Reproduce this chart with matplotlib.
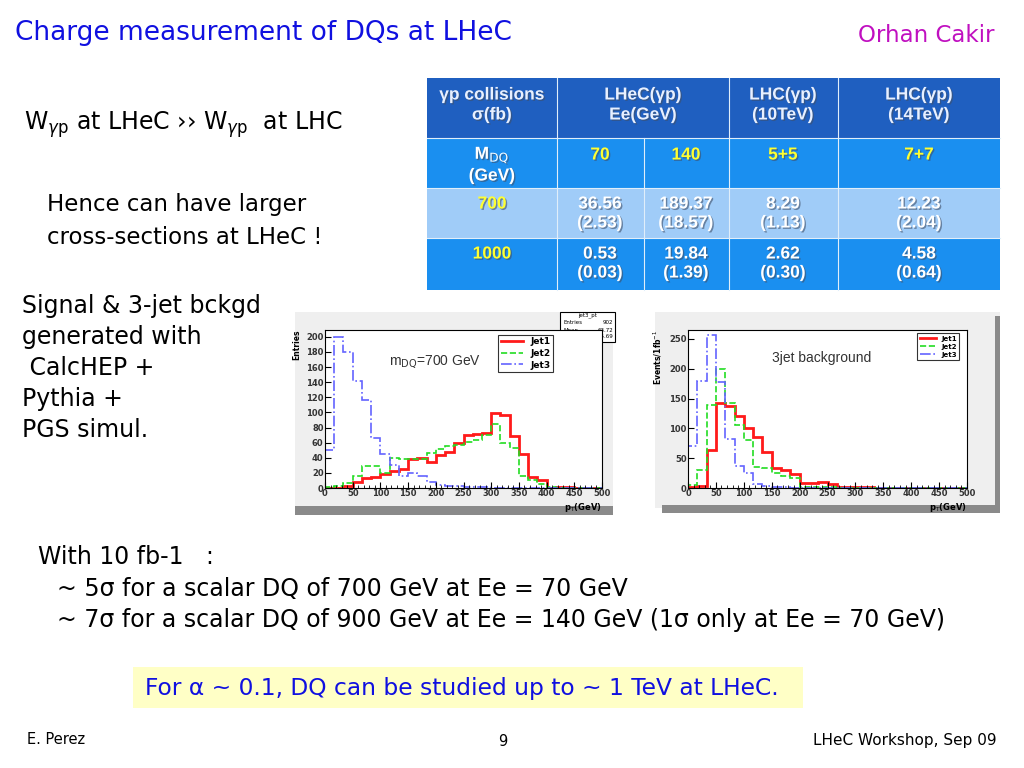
import numpy as np
import matplotlib.pyplot as plt
from matplotlib.patches import Rectangle
import matplotlib.patheffects as pe

# histogram data (30 bins, 0-500 GeV)
edges = np.linspace(0, 500, 31)
sig_jet1 = [0, 0, 3, 8, 13, 15, 19, 23, 25, 39, 40, 35, 43, 48, 60,
            70, 72, 73, 99, 96, 69, 45, 14, 10, 0, 1, 1, 0, 0, 0]
sig_jet2 = [1, 3, 7, 16, 29, 29, 20, 40, 39, 38, 38, 46, 51, 55, 57,
            61, 63, 70, 84, 60, 53, 16, 10, 5, 1, 0, 0, 0, 0, 0]
sig_jet3 = [50, 200, 180, 142, 116, 66, 45, 30, 16, 20, 16, 8, 4, 3, 2,
            1, 1, 1, 0, 0, 0, 0, 0, 0, 0, 0, 0, 0, 0, 0]
bkg_jet1 = [1, 3, 63, 143, 137, 120, 100, 85, 60, 33, 30, 24, 8, 8, 10,
            6, 2, 1, 1, 1, 0.5, 0.5, 0.5, 0.5, 0.5, 0.5, 0.5, 0.5, 0.5, 0.5]
bkg_jet2 = [5, 31, 140, 200, 143, 105, 81, 36, 33, 25, 20, 17, 2, 2, 2,
            1, 0.5, 0.5, 0, 0, 0, 0, 0, 0, 0, 0, 0, 0, 0, 0]
bkg_jet3 = [70, 180, 257, 177, 82, 37, 25, 7, 4, 2, 1, 0, 0, 0, 0,
            0, 0, 0, 0, 0, 0, 0, 0, 0, 0, 0, 0, 0, 0, 0]
jet_labels = ['Jet1', 'Jet2', 'Jet3']

# cross-section table
col_heads = [['\u03b3p collisions', '\u03c3(fb)'], ['LHeC(\u03b3p)', 'Ee(GeV)'],
             ['LHC(\u03b3p)', '(10TeV)'], ['LHC(\u03b3p)', '(14TeV)']]
energies = ['70', '140', '5+5', '7+7']
masses = ['700', '1000']
xsec = [['36.56', '189.37', '8.29', '12.23'], ['0.53', '19.84', '2.62', '4.58']]
xsec_err = [['(2.53)', '(18.57)', '(1.13)', '(2.04)'], ['(0.03)', '(1.39)', '(0.30)', '(0.64)']]

W, H = 1024, 768
fig = plt.figure(figsize=(W / 100, H / 100), dpi=100)
bg = fig.add_axes([0, 0, 1, 1])
bg.set_xlim(0, W)
bg.set_ylim(H, 0)
bg.axis('off')

font = 'DejaVu Sans'
# title + author
bg.text(15, 33, 'Charge measurement of DQs at LHeC', color='#1010e0', fontsize=19,
        family=font, va='center')
bg.text(995, 35, 'Orhan Cakir', color='#c010c0', fontsize=16.5, family=font,
        va='center', ha='right')

# left text
bg.text(24, 125, r'W$_{\gamma\mathrm{p}}$ at LHeC ›› W$_{\gamma\mathrm{p}}$  at LHC',
        fontsize=17, family=font, va='center')
bg.text(47, 204, 'Hence can have larger', fontsize=16.5, family=font, va='center')
bg.text(47, 237, 'cross-sections at LHeC !', fontsize=16.5, family=font, va='center')
for i, line in enumerate(['Signal & 3-jet bckgd', 'generated with', ' CalcHEP +',
                          'Pythia +', 'PGS simul.']):
    bg.text(22, 306 + 31 * i, line, fontsize=17, family=font, va='center')

bg.text(38, 557, 'With 10 fb-1   :', fontsize=17, family=font, va='center')
bg.text(57, 589, '~ 5\u03c3 for a scalar DQ of 700 GeV at Ee = 70 GeV',
        fontsize=17, family=font, va='center')
bg.text(57, 620, '~ 7\u03c3 for a scalar DQ of 900 GeV at Ee = 140 GeV (1\u03c3 only at Ee = 70 GeV)',
        fontsize=17, family=font, va='center')

bg.add_patch(Rectangle((133, 667), 670, 41, color='#ffffc6', lw=0))
bg.text(145, 688, 'For \u03b1 ~ 0.1, DQ can be studied up to ~ 1 TeV at LHeC.',
        color='#1010e0', fontsize=16.8, family=font, va='center')

bg.text(27, 740, 'E. Perez', fontsize=10.5, family=font, va='center')
bg.text(503, 742, '9', fontsize=10.5, family=font, va='center', ha='center')
bg.text(997, 740, 'LHeC Workshop, Sep 09', fontsize=11, family=font, va='center', ha='right')

# table
tx = [427, 557, 644, 729, 838, 1000]
ty = [78, 138, 188, 238, 290]
row_cols = ['#1f5fc0', '#1a8ff0', '#a0ccf8', '#1a8ff0']
for r in range(4):
    bg.add_patch(Rectangle((tx[0], ty[r]), tx[-1] - tx[0], ty[r + 1] - ty[r],
                           color=row_cols[r], lw=0))
for x in tx[1:-1]:
    y0 = ty[1] if x == tx[2] else ty[0]
    bg.plot([x, x], [y0, ty[-1]], color='#e0eefa', lw=0.8)
for y in ty[1:-1]:
    bg.plot([tx[0], tx[-1]], [y, y], color='#e0eefa', lw=0.8)

shadow = [pe.withSimplePatchShadow(offset=(1, -1), shadow_rgbFace='#40506a', alpha=0.6)]
tf = dict(family='Liberation Sans', fontweight='bold', fontsize=12.5, ha='center',
          va='center', path_effects=shadow)
head_x = [492, 643, 783, 919]
for hx, (l1, l2) in zip(head_x, col_heads):
    bg.text(hx, 95, l1, color='#e8f0ff', **tf)
    bg.text(hx, 115, l2, color='#e8f0ff', **tf)
bg.text(492, 155, r'M$_{\mathrm{DQ}}$', color='white', **tf)
bg.text(492, 176, '(GeV)', color='white', **tf)
col_x = [600, 686, 783, 919]
for cx, e in zip(col_x, energies):
    bg.text(cx, 155, e, color='#ffff30', **tf)
for r, m in enumerate(masses):
    yy = ty[2 + r] + 16
    bg.text(492, yy, m, color='#ffff30', **tf)
    for cx, v, ev in zip(col_x, xsec[r], xsec_err[r]):
        bg.text(cx, yy, v, color='white', **tf)
        bg.text(cx, yy + 19, ev, color='white', **tf)

# histogram panels (screenshot look)
bg.add_patch(Rectangle((295, 312), 318, 200, color='#efefef', lw=0))
bg.add_patch(Rectangle((295, 506), 318, 9, color='#8a8a8a', lw=0))
bg.add_patch(Rectangle((655, 312), 345, 196, color='#efefef', lw=0))
bg.add_patch(Rectangle((662, 505), 338, 8, color='#8a8a8a', lw=0))
bg.add_patch(Rectangle((995, 316), 5, 195, color='#8a8a8a', lw=0))


def hist_axes(px0, px1, py_top, py0, ymax, series, ylabel, yticks, note, leg_box, leg_fs):
    ax = fig.add_axes([px0 / W, 1 - py0 / H, (px1 - px0) / W, (py0 - py_top) / H])
    styles = [('#ff1a1a', '-', 2.0), ('#22dd22', '--', 1.2), ('#6464ff', '-.', 1.2)]
    for vals, lab, (c, ls, lw) in zip(series, jet_labels, styles):
        ax.stairs(vals, edges, color=c, ls=ls, lw=lw, label=lab)
    ax.set_xlim(0, 500)
    ax.set_ylim(0, ymax)
    ax.set_xticks(np.arange(0, 501, 50))
    ax.set_xticks(np.arange(0, 501, 10), minor=True)
    ax.set_yticks(yticks)
    ax.tick_params(labelsize=6, length=4, direction='in', top=False, right=False, pad=1)
    ax.tick_params(which='minor', length=2, direction='in')
    for t in ax.get_xticklabels() + ax.get_yticklabels():
        t.set_fontweight('bold')
        t.set_color('#333333')
    ax.set_ylabel(ylabel, fontsize=5.5, labelpad=1, fontweight='bold')
    ax.yaxis.set_label_coords(-0.085, 1.0)
    ax.yaxis.label.set_ha('right')
    ax.set_xlabel(r'p$_{\mathrm{T}}$(GeV)', fontsize=6, fontweight='bold', labelpad=0)
    ax.xaxis.set_label_coords(1.0, -0.08)
    ax.xaxis.label.set_ha('right')
    ax.text(note[0], note[1], note[2], transform=ax.transAxes, fontsize=10,
            family='Liberation Sans', color='#333333')
    leg = ax.legend(loc='upper left', bbox_to_anchor=leg_box, fontsize=leg_fs,
                    frameon=True, fancybox=False, edgecolor='black',
                    borderpad=0.3, handlelength=2.4, labelspacing=0.3)
    leg.get_frame().set_linewidth(0.8)
    for t in leg.get_texts():
        t.set_fontweight('bold')
    for s in ax.spines.values():
        s.set_linewidth(0.8)
    return ax


hist_axes(325, 602, 330, 488, 209, [sig_jet1, sig_jet2, sig_jet3], 'Entries',
          np.arange(0, 201, 20), (0.23, 0.78, r'm$_{\mathrm{DQ}}$=700 GeV'),
          (0.61, 1.0), 6.5)
hist_axes(688, 967, 330, 488, 265, [bkg_jet1, bkg_jet2, bkg_jet3], 'Events/1fb$^{-1}$',
          np.arange(0, 251, 50), (0.3, 0.8, '3jet background'), (0.81, 1.0), 5)

# stats box of left panel
bg.add_patch(Rectangle((560, 312), 55, 30, facecolor='white', edgecolor='black', lw=0.8))
bg.text(588, 315, 'jet3_pt', fontsize=4, ha='center', va='center')
for i, (k, v) in enumerate([('Entries', '902'), ('Mean', '63.72'), ('RMS', '45.69')]):
    bg.text(563, 323 + 7 * i, k, fontsize=4, va='center')
    bg.text(613, 323 + 7 * i, v, fontsize=4, va='center', ha='right')

fig.savefig('out.png', dpi=100)
